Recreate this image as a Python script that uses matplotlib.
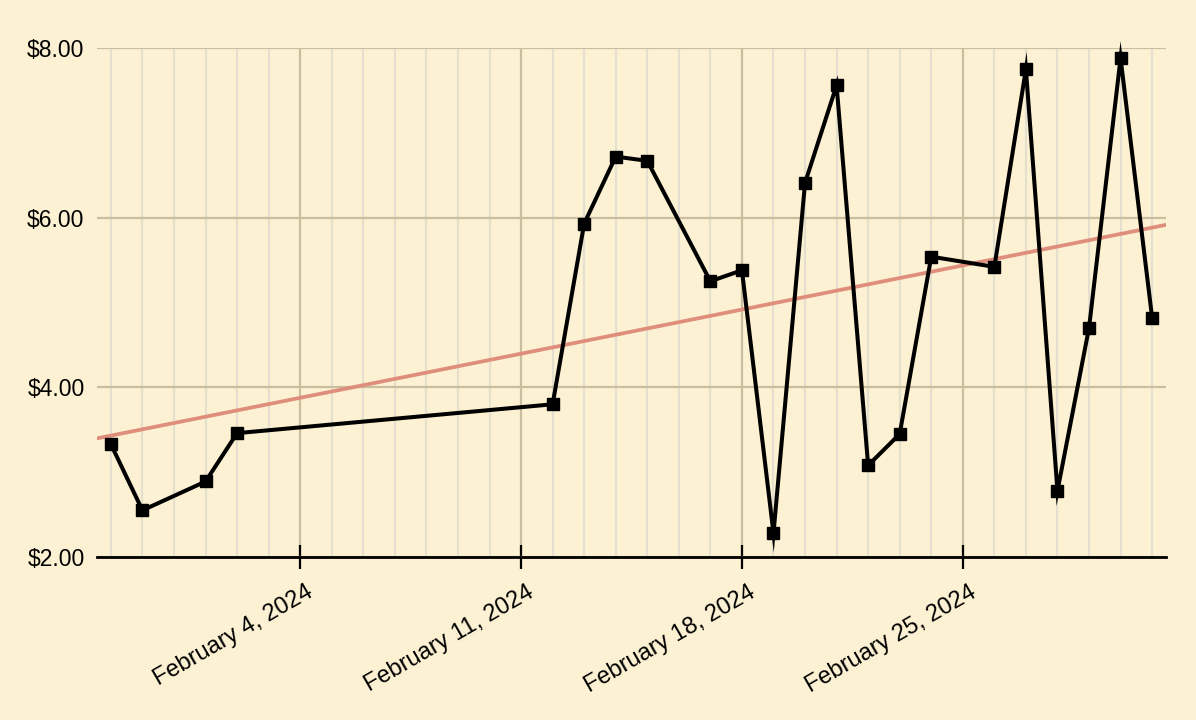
import numpy as np
import pandas as pd
import matplotlib
matplotlib.use("Agg")
import matplotlib.pyplot as plt
import matplotlib.dates as mdates
import matplotlib.transforms as mtransforms
from matplotlib.patches import Polygon
from matplotlib.ticker import FuncFormatter, FixedLocator

plt.rcParams['font.family'] = ['Liberation Sans', 'DejaVu Sans']

# daily prices (missing days are gaps in the data)
dates = pd.to_datetime([
    "2024-01-29", "2024-01-30", "2024-02-01", "2024-02-02", "2024-02-12",
    "2024-02-13", "2024-02-14", "2024-02-15", "2024-02-17", "2024-02-18",
    "2024-02-19", "2024-02-20", "2024-02-21", "2024-02-22", "2024-02-23",
    "2024-02-24", "2024-02-26", "2024-02-27", "2024-02-28", "2024-02-29",
    "2024-03-01", "2024-03-02",
])
prices = [3.33, 2.55, 2.89, 3.46, 3.80, 5.93, 6.72, 6.67, 5.25, 5.38,
          2.28, 6.41, 7.56, 3.08, 3.45, 5.54, 5.42, 7.75, 2.78, 4.70,
          7.88, 4.82]
week_ticks = pd.to_datetime(["2024-02-04", "2024-02-11", "2024-02-18", "2024-02-25"])

bg = "#fcf1d2"
fig = plt.figure(figsize=(11.96, 7.2), dpi=100, facecolor=bg)
ax = fig.add_axes([97 / 1196, 1 - 557 / 720, (1166 - 97) / 1196, (557 - 48) / 720])
ax.set_facecolor(bg)

xnum = mdates.date2num(dates)
ax.set_xlim(xnum[0] - 0.44, xnum[-1] + 0.44)
ax.set_ylim(2, 8)

# daily minor grid + weekly major grid
ax.xaxis.set_minor_locator(mdates.DayLocator())
ax.xaxis.set_major_locator(FixedLocator(mdates.date2num(week_ticks)))
ax.xaxis.set_major_formatter(mdates.DateFormatter("%B %-d, %Y"))
ax.grid(True, which="minor", axis="x", color="#e4dfcf", linewidth=1.6)
ax.grid(True, which="major", axis="x", color="#c9bf9f", linewidth=1.6)
ax.set_yticks([2, 4, 6, 8])
ax.grid(True, which="major", axis="y", color="#c9bf9f", linewidth=1.6)
ax.set_axisbelow(True)
ax.yaxis.set_major_formatter(FuncFormatter(lambda v, p: f"${v:.2f}"))

for s in ["left", "right", "top"]:
    ax.spines[s].set_visible(False)
ax.spines["bottom"].set_linewidth(2)
ax.spines["bottom"].set_zorder(1)

ax.tick_params(axis="x", which="major", direction="inout", length=17, width=1.6,
               color="black", labelsize=17, pad=6)
ax.tick_params(axis="x", which="minor", length=0)
ax.tick_params(axis="y", length=0, labelsize=16.5, pad=9)
shift = mtransforms.ScaledTranslation(6 / 100, -4 / 100, fig.dpi_scale_trans)
for lab in ax.get_xticklabels():
    lab.set_rotation(30)
    lab.set_ha("right")
    lab.set_rotation_mode("anchor")
    lab.set_transform(lab.get_transform() + shift)

# linear trend over the data
coef = np.polyfit(xnum, prices, 1)
xs = np.array(ax.get_xlim())
ax.plot(xs, np.polyval(coef, xs), color="#e08e7c", linewidth=2.7, zorder=2)

lw = 2.9
ax.plot(dates, prices, color="black", linewidth=lw, marker="s", markersize=9.2,
        solid_joinstyle="miter", zorder=3, clip_on=False)

# Agg bevels sharp joins early; add the miter spikes (limit 10) by hand
half = lw * fig.dpi / 72 / 2
pts = ax.transData.transform(np.column_stack([xnum, prices]))
for i in range(1, len(pts) - 1):
    ua = pts[i - 1] - pts[i]
    ub = pts[i + 1] - pts[i]
    ua /= np.hypot(*ua)
    ub /= np.hypot(*ub)
    theta = np.arccos(np.clip(ua @ ub, -1, 1))
    ratio = 1 / np.sin(theta / 2)
    if ratio < 3 or ratio > 10:
        continue
    out = -(ua + ub)
    out /= np.hypot(*out)
    tip = pts[i] + out * half * ratio
    corners = []
    for u in (ua, ub):
        n = np.array([-u[1], u[0]])
        if n @ out < 0:
            n = -n
        corners.append(pts[i] + n * half)
    poly = Polygon([pts[i], corners[0], tip, corners[1]], closed=True,
                   facecolor="black", edgecolor="none",
                   transform=mtransforms.IdentityTransform(), zorder=3)
    fig.patches.append(poly)

fig.savefig("out.png", dpi=100, facecolor=bg)
